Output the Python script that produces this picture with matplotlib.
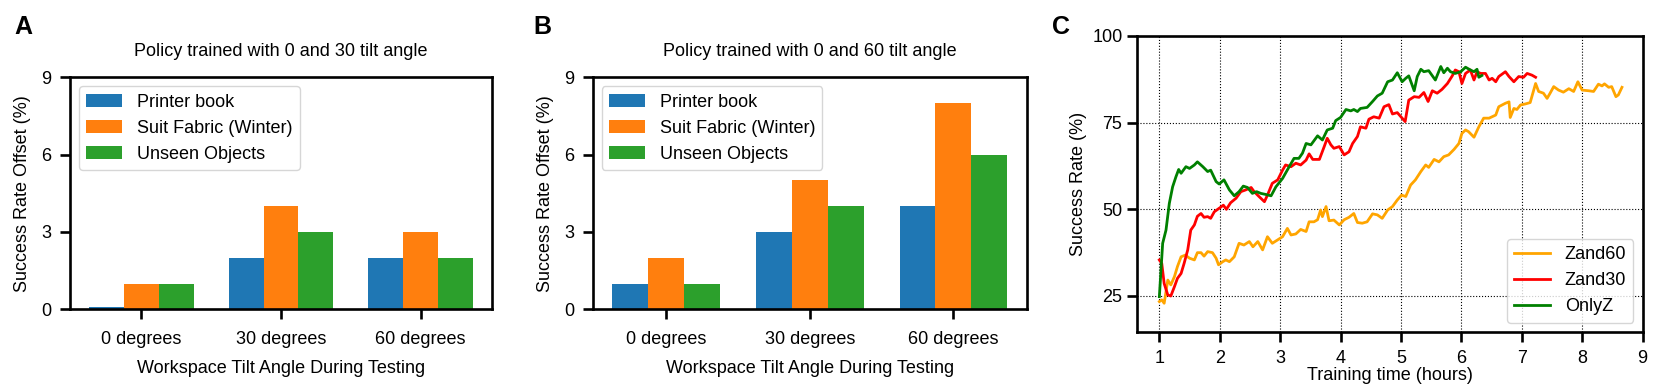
import numpy as np
import matplotlib
matplotlib.use("Agg")
import matplotlib.pyplot as plt

plt.rcParams['font.family'] = ['Liberation Sans', 'DejaVu Sans']
plt.rcParams['font.size'] = 13

# Bar data (panels A and B)
categories = ['0 degrees', '30 degrees', '60 degrees']
series_names = ['Printer book', 'Suit Fabric (Winter)', 'Unseen Objects']
a_printer = [0.1, 2, 2]
a_suit = [1, 4, 3]
a_unseen = [1, 3, 2]
b_printer = [1, 3, 4]
b_suit = [2, 5, 8]
b_unseen = [1, 4, 6]
bar_colors = ['tab:blue', 'tab:orange', 'tab:green']

# Training curves (panel C)
onlyz_t = [1.00, 1.055, 1.11, 1.165, 1.22, 1.275, 1.32, 1.36, 1.44, 1.50, 1.58, 1.63,
           1.72, 1.80, 1.85, 1.94, 1.99, 2.07, 2.16, 2.24, 2.32, 2.39, 2.46, 2.54, 2.61,
           2.68, 2.76, 2.85, 2.93, 3.04, 3.15, 3.23, 3.31, 3.37, 3.43, 3.51, 3.62, 3.70,
           3.78, 3.87, 3.92, 4.00, 4.09, 4.17, 4.22, 4.28, 4.33, 4.44, 4.53, 4.61, 4.69,
           4.78, 4.86, 4.94, 5.02, 5.08, 5.13, 5.22, 5.27, 5.33, 5.38, 5.46, 5.57, 5.66,
           5.71, 5.77, 5.82, 5.90, 5.99, 6.07, 6.15, 6.21, 6.26, 6.29, 6.34]
onlyz_v = [24.8, 40.2, 44.0, 51.7, 56.5, 59.4, 61.5, 60.4, 62.3, 61.8, 62.8, 63.7,
           62.3, 60.9, 61.3, 58.0, 57.3, 58.5, 55.6, 53.9, 55.1, 56.7, 56.3, 54.6, 55.1,
           54.6, 54.3, 53.9, 56.5, 58.9, 62.3, 64.7, 64.7, 66.2, 69.0, 68.6, 71.2, 70.0,
           72.9, 73.4, 75.6, 76.5, 78.8, 78.4, 78.8, 78.2, 79.1, 79.4, 81.1, 82.7, 83.5,
           86.8, 87.3, 89.4, 86.8, 87.8, 88.5, 84.2, 88.3, 90.4, 89.7, 90.0, 87.3, 91.2,
           89.4, 90.7, 89.7, 89.2, 89.7, 91.0, 90.2, 89.7, 90.4, 88.1, 88.6]

zand30_t = [1.00, 1.04, 1.08, 1.14, 1.19, 1.25, 1.30, 1.36, 1.41, 1.47, 1.52, 1.58,
            1.63, 1.69, 1.74, 1.80, 1.85, 1.91, 1.99, 2.06, 2.11, 2.18, 2.27, 2.35, 2.43,
            2.52, 2.57, 2.65, 2.74, 2.79, 2.87, 2.96, 3.04, 3.09, 3.18, 3.26, 3.34, 3.43,
            3.48, 3.54, 3.65, 3.73, 3.78, 3.84, 3.89, 3.98, 4.06, 4.14, 4.20, 4.28, 4.33,
            4.42, 4.47, 4.55, 4.64, 4.72, 4.80, 4.86, 4.94, 5.02, 5.07, 5.13, 5.22, 5.30,
            5.38, 5.45, 5.52, 5.60, 5.68, 5.77, 5.85, 5.90, 5.96, 6.01, 6.07, 6.15, 6.21,
            6.26, 6.32, 6.40, 6.46, 6.51, 6.57, 6.62, 6.73, 6.79, 6.87, 6.95, 7.03, 7.09,
            7.17, 7.23]
zand30_v = [35.4, 34.4, 28.6, 25.3, 25.0, 27.7, 30.1, 31.5, 34.4, 38.3, 44.0, 45.5,
            48.0, 48.8, 47.7, 47.9, 47.4, 49.3, 50.3, 51.2, 50.0, 51.9, 53.2, 55.1, 55.6,
            56.3, 55.1, 53.7, 52.2, 54.1, 57.5, 58.5, 61.3, 62.8, 62.3, 63.3, 62.8, 64.2,
            66.0, 64.4, 64.4, 68.1, 70.5, 68.6, 67.6, 68.1, 65.7, 66.6, 69.0, 71.0, 73.8,
            73.4, 76.0, 76.7, 76.3, 79.6, 80.2, 77.5, 77.9, 76.3, 75.3, 81.5, 82.5, 82.3,
            83.7, 81.1, 84.2, 83.5, 84.6, 86.3, 88.5, 90.2, 89.7, 86.3, 89.2, 90.2, 87.3,
            89.7, 89.2, 89.2, 87.3, 87.8, 86.8, 88.3, 89.7, 88.3, 86.8, 88.3, 88.1, 89.2,
            88.7, 88.1]

zand60_t = [1.00, 1.04, 1.08, 1.14, 1.19, 1.25, 1.30, 1.36, 1.43, 1.50, 1.58, 1.63,
            1.69, 1.74, 1.80, 1.88, 1.94, 1.98, 2.05, 2.10, 2.16, 2.24, 2.32, 2.40, 2.49,
            2.55, 2.63, 2.71, 2.79, 2.87, 2.96, 3.04, 3.12, 3.18, 3.26, 3.34, 3.43, 3.48,
            3.56, 3.62, 3.67, 3.70, 3.76, 3.81, 3.89, 3.98, 4.06, 4.14, 4.22, 4.28, 4.36,
            4.44, 4.53, 4.61, 4.69, 4.78, 4.86, 4.94, 5.01, 5.08, 5.16, 5.24, 5.33, 5.41,
            5.46, 5.55, 5.63, 5.71, 5.79, 5.88, 5.96, 6.01, 6.07, 6.12, 6.21, 6.29, 6.37,
            6.46, 6.57, 6.62, 6.73, 6.79, 6.81, 6.87, 6.92, 6.98, 7.06, 7.14, 7.23, 7.28,
            7.36, 7.42, 7.47, 7.53, 7.61, 7.69, 7.78, 7.86, 7.93, 8.00, 8.11, 8.19, 8.27,
            8.33, 8.37, 8.44, 8.49, 8.56, 8.60, 8.66]
zand60_v = [23.4, 23.9, 22.9, 29.6, 28.2, 30.6, 33.5, 36.3, 36.8, 35.9, 35.4, 37.5,
            37.5, 36.5, 37.8, 37.5, 35.9, 34.0, 34.9, 35.4, 34.9, 36.3, 40.2, 39.7, 40.7,
            39.2, 40.7, 38.3, 42.1, 40.2, 41.2, 42.1, 44.5, 42.6, 42.9, 44.2, 43.6, 46.4,
            46.4, 47.0, 49.8, 47.9, 50.8, 46.7, 46.9, 45.5, 47.0, 47.7, 48.8, 46.2, 46.0,
            46.4, 48.7, 48.4, 47.4, 49.8, 50.8, 52.7, 54.1, 53.7, 57.0, 58.5, 60.9, 62.8,
            62.1, 64.4, 63.7, 65.2, 65.7, 67.3, 69.0, 71.9, 72.9, 72.4, 70.8, 73.8, 76.3,
            76.3, 77.2, 79.6, 80.6, 81.0, 76.5, 79.1, 78.8, 80.1, 80.4, 80.8, 86.3, 84.0,
            83.5, 82.0, 83.5, 85.4, 84.4, 83.8, 84.8, 84.0, 86.8, 84.4, 84.2, 84.0, 86.1,
            85.6, 86.2, 85.2, 85.4, 82.5, 83.0, 85.2]

W, H = 1660, 388
fig = plt.figure(figsize=(W / 100, H / 100), dpi=100)


def style_axes(ax):
    for s in ax.spines.values():
        s.set_linewidth(1.9)
    ax.tick_params(direction='out', length=7, width=1.9, labelsize=13)


def bar_panel(ax, vals, title):
    x = np.arange(len(categories))
    w = 0.25
    for i, (v, name) in enumerate(zip(vals, series_names)):
        ax.bar(x + (i - 1) * w, v, w, color=bar_colors[i], label=name)
    ax.set_xticks(x)
    ax.set_xticklabels(categories)
    ax.set_ylim(0, 9)
    ax.set_yticks([0, 3, 6, 9])
    ax.set_ylabel('Success Rate Offset (%)', fontsize=13, labelpad=7)
    ax.set_xlabel('Workspace Tilt Angle During Testing', fontsize=13, labelpad=9)
    ax.set_title(title, fontsize=13, pad=15)
    ax.legend(loc='upper left', fontsize=13)
    style_axes(ax)
    ax.tick_params(axis='x', pad=8.5)
    ax.tick_params(axis='y', pad=6.5)


axA = fig.add_axes([70 / W, 1 - 309.3 / H, (492 - 70) / W, (309.3 - 77.3) / H])
bar_panel(axA, [a_printer, a_suit, a_unseen], 'Policy trained with 0 and 30 tilt angle')

axB = fig.add_axes([592.7 / W, 1 - 309.3 / H, (1027 - 592.7) / W, (309.3 - 77.3) / H])
bar_panel(axB, [b_printer, b_suit, b_unseen], 'Policy trained with 0 and 60 tilt angle')

axC = fig.add_axes([1137 / W, 1 - 331.7 / H, (1642.5 - 1137) / W, (331.7 - 36) / H])
axC.plot(zand60_t, zand60_v, color='orange', lw=2, label='Zand60')
axC.plot(zand30_t, zand30_v, color='red', lw=2, label='Zand30')
axC.plot(onlyz_t, onlyz_v, color='green', lw=2, label='OnlyZ')
axC.set_xlim(0.63, 9.0)
axC.set_ylim(14.7, 100)
axC.set_xticks(range(1, 10))
axC.set_yticks([25, 50, 75, 100])
axC.grid(True, linestyle=':', color='k', linewidth=0.8)
axC.set_xlabel('Training time (hours)', fontsize=13, labelpad=0.5)
axC.set_ylabel('Success Rate (%)', fontsize=13)
axC.legend(loc='lower right', fontsize=13)
style_axes(axC)
axC.tick_params(axis='x', pad=6)

for lbl, xp in [('A', 23), ('B', 542), ('C', 1061)]:
    fig.text(xp / W, 1 - 27 / H, lbl, fontsize=18, fontweight='bold',
             ha='center', va='center')

fig.savefig('out.png', dpi=100)
